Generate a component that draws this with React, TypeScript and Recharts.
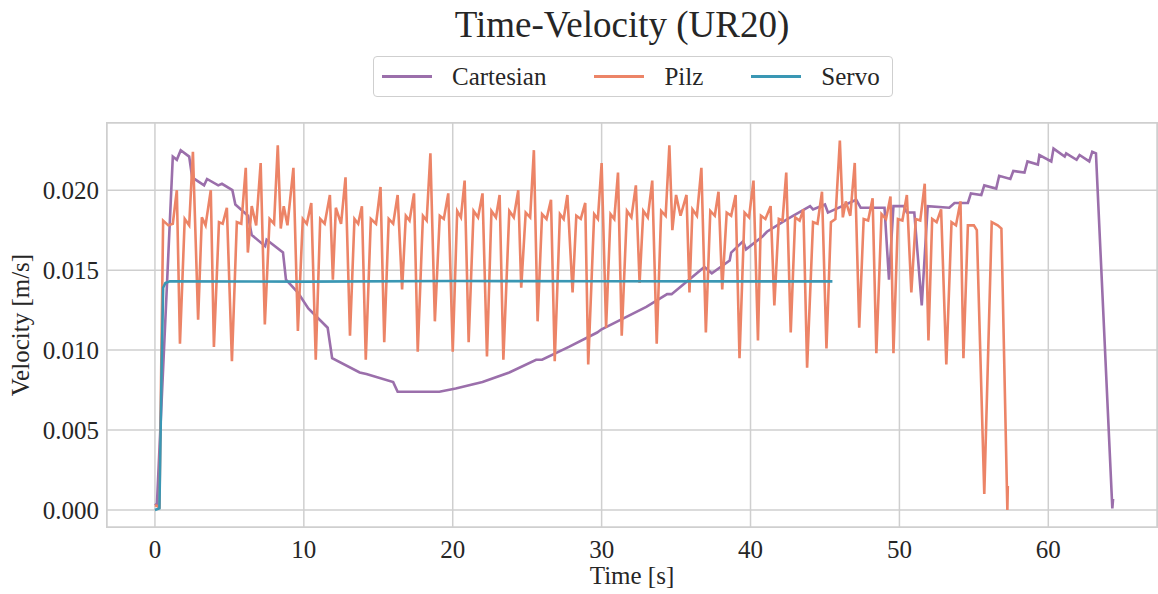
// Time-Velocity (UR20): velocity traces of three planners
import { LineChart, Line, XAxis, YAxis, CartesianGrid } from "recharts";

const FONT = "'Liberation Serif', 'DejaVu Serif', serif";
const TEXT = "#262626";
const GRID = "#cfcfcf";

const X_TICKS = [0, 10, 20, 30, 40, 50, 60];
const Y_TICKS = [0, 0.005, 0.01, 0.015, 0.02];

// [time s, velocity m/s]
const cartesian: [number, number][] = [
  [0, 0.0004], [0.13, 0.0003], [1.2, 0.0221], [1.47, 0.0219], [1.73, 0.0225], [2.3, 0.0221],
  [2.5, 0.0208], [3.3, 0.0203], [3.5, 0.0207], [4.25, 0.0203], [4.5, 0.0204], [5.2, 0.02],
  [5.4, 0.0191], [6.25, 0.0184], [6.5, 0.0172], [7.4, 0.0165], [7.5, 0.0169], [8.6, 0.0161],
  [8.8, 0.0144], [9.6, 0.0136], [10.3, 0.0126], [11.6, 0.0114], [11.9, 0.0095], [13.75, 0.0086],
  [14.2, 0.0085], [16.0, 0.008], [16.3, 0.0074], [19.1, 0.0074], [20.2, 0.0076], [21.1, 0.0078],
  [22.0, 0.008], [23.8, 0.0086], [25.6, 0.0094], [26.0, 0.0094], [27.8, 0.0102], [29.7, 0.0111],
  [30.0, 0.0113], [31.5, 0.012], [33.0, 0.0127], [34.4, 0.0135], [34.7, 0.0135], [36.9, 0.0152],
  [37.4, 0.0148], [38.6, 0.0156], [38.7, 0.0161], [39.5, 0.0168], [39.7, 0.0163], [40.8, 0.0171],
  [41.1, 0.0174], [42.5, 0.0182], [44.0, 0.019], [44.2, 0.0188], [45.0, 0.0191], [45.2, 0.0186],
  [47.1, 0.0194], [47.4, 0.0189], [49.0, 0.0189], [49.3, 0.0144], [49.6, 0.019], [50.3, 0.019],
  [50.5, 0.0186], [51.0, 0.0186], [51.5, 0.0128], [51.9, 0.019], [53.35, 0.0189], [53.7, 0.0192],
  [54.6, 0.0192], [54.8, 0.0198], [55.5, 0.0197], [55.7, 0.0203], [56.5, 0.0201], [56.7, 0.0209],
  [57.45, 0.0207], [57.65, 0.0212], [58.4, 0.0211], [58.6, 0.0218], [59.3, 0.0216], [59.4, 0.0222],
  [60.2, 0.0218], [60.35, 0.0226], [61.1, 0.0221], [61.2, 0.0223], [61.9, 0.0219], [62.1, 0.0222],
  [62.75, 0.0218], [62.95, 0.0224], [63.2, 0.0223], [64.3, 0.0001], [64.35, 0.0007],
];

const pilz: [number, number][] = [
  [0, 0.0003], [0.3, 0.0002], [0.55, 0.0181], [0.9, 0.0178], [1.2, 0.0179], [1.47, 0.02], [1.68, 0.0104],
  [2.0, 0.0182], [2.3, 0.0178], [2.55, 0.0224], [2.9, 0.0119], [3.15, 0.0183], [3.4, 0.0178], [3.75, 0.02],
  [3.96, 0.0102], [4.3, 0.018], [4.55, 0.0179], [4.83, 0.0189], [5.17, 0.0093], [5.5, 0.018], [5.8, 0.0179],
  [6.1, 0.0214], [6.24, 0.0161], [6.5, 0.019], [6.8, 0.0178], [7.1, 0.0217], [7.38, 0.0116], [7.7, 0.0182],
  [8.0, 0.0179], [8.25, 0.0228], [8.45, 0.0176], [8.65, 0.019], [8.9, 0.0178], [9.3, 0.0214], [9.6, 0.0112],
  [9.93, 0.0182], [10.2, 0.0179], [10.5, 0.0192], [10.8, 0.0094], [11.1, 0.0182], [11.4, 0.0179],
  [11.75, 0.0197], [11.95, 0.0144], [12.15, 0.0189], [12.5, 0.0179], [12.8, 0.0208], [13.1, 0.0109],
  [13.4, 0.0182], [13.65, 0.0179], [13.9, 0.019], [14.16, 0.0094], [14.5, 0.0182], [14.85, 0.0179],
  [15.15, 0.0202], [15.4, 0.0105], [15.7, 0.0182], [16.0, 0.0179], [16.3, 0.0197], [16.6, 0.0138],
  [16.85, 0.0184], [17.1, 0.0181], [17.4, 0.0198], [17.65, 0.0099], [18.0, 0.0184], [18.25, 0.0181],
  [18.5, 0.0223], [18.8, 0.0118], [19.13, 0.0184], [19.4, 0.0182], [19.7, 0.0198], [20.0, 0.0099],
  [20.3, 0.0187], [20.55, 0.0183], [20.8, 0.0206], [21.07, 0.0105], [21.4, 0.0187], [21.7, 0.0183],
  [22.0, 0.0198], [22.3, 0.0096], [22.6, 0.0187], [22.9, 0.0183], [23.15, 0.0197], [23.4, 0.0094],
  [23.8, 0.0187], [24.1, 0.0183], [24.4, 0.02], [24.6, 0.0139], [24.9, 0.0186], [25.2, 0.0183],
  [25.45, 0.0225], [25.7, 0.0118], [26.0, 0.0185], [26.3, 0.0182], [26.6, 0.0194], [26.85, 0.0093],
  [27.2, 0.0185], [27.45, 0.0182], [27.7, 0.0197], [28.05, 0.0136], [28.3, 0.0184], [28.6, 0.0182],
  [28.9, 0.0192], [29.1, 0.0091], [29.5, 0.0185], [29.75, 0.0182], [30.0, 0.0217], [30.3, 0.0114],
  [30.6, 0.0185], [30.85, 0.0182], [31.1, 0.0211], [31.35, 0.0109], [31.7, 0.0187], [32.0, 0.0183],
  [32.3, 0.0203], [32.55, 0.0142], [32.8, 0.0187], [33.1, 0.0183], [33.4, 0.0206], [33.7, 0.0104],
  [34.0, 0.0187], [34.3, 0.0184], [34.55, 0.0228], [34.75, 0.0175], [35.0, 0.0197], [35.3, 0.0184],
  [35.7, 0.0197], [35.9, 0.0136], [36.1, 0.0188], [36.4, 0.0184], [36.7, 0.0214], [37.0, 0.0111],
  [37.3, 0.0187], [37.6, 0.0184], [37.85, 0.0199], [38.1, 0.0138], [38.4, 0.0186], [38.7, 0.0184],
  [39.0, 0.0197], [39.26, 0.0095], [39.6, 0.0186], [39.9, 0.0183], [40.2, 0.0206], [40.5, 0.0106],
  [40.7, 0.0184], [41.0, 0.0182], [41.35, 0.019], [41.6, 0.0128], [41.9, 0.0182], [42.15, 0.0181],
  [42.4, 0.0211], [42.7, 0.0111], [43.0, 0.0183], [43.3, 0.0181], [43.55, 0.0188], [43.8, 0.0089],
  [44.2, 0.018], [44.5, 0.0179], [44.8, 0.0199], [45.1, 0.0101], [45.4, 0.018], [45.7, 0.0182],
  [46.0, 0.0231], [46.2, 0.0183], [46.4, 0.0193], [46.7, 0.0184], [47.0, 0.0217], [47.3, 0.0114],
  [47.6, 0.0182], [47.9, 0.0181], [48.2, 0.0195], [48.45, 0.0098], [48.8, 0.0185], [49.1, 0.0182],
  [49.4, 0.0196], [49.6, 0.0098], [49.9, 0.0182], [50.2, 0.0181], [50.5, 0.0197], [50.8, 0.0136],
  [51.1, 0.0182], [51.4, 0.0181], [51.7, 0.0204], [51.95, 0.0106], [52.2, 0.0182], [52.5, 0.018],
  [52.8, 0.0188], [53.15, 0.0091], [53.5, 0.018], [53.8, 0.0178], [54.1, 0.0193], [54.3, 0.0095],
  [54.6, 0.0178], [55.0, 0.0178], [55.2, 0.0175], [55.7, 0.001], [56.2, 0.018], [56.6, 0.0178],
  [56.85, 0.0176], [57.25, 0.0], [57.28, 0.0015],
];

const servo: [number, number][] = [
  [0, 0.0], [0.3, 0.0001], [0.45, 0.009], [0.55, 0.0139], [0.7, 0.0142], [1.0, 0.0143],
  [10, 0.01428], [20, 0.01432], [30, 0.01431], [40, 0.0143], [45.5, 0.0143],
];

const series = [
  { name: "Cartesian", color: "#9b6fab", points: cartesian },
  { name: "Pilz", color: "#ec8467", points: pilz },
  { name: "Servo", color: "#3a97b4", points: servo },
];

const tickStyle = { fontSize: 25, fill: TEXT, fontFamily: FONT };

export default function App() {
  return (
    <div
      style={{
        position: "absolute",
        left: 0,
        top: 0,
        width: 1158,
        height: 594,
        background: "#fff",
        fontFamily: FONT,
        color: TEXT,
      }}
    >
      <LineChart width={1158} height={594} margin={{ top: 123, right: 1, bottom: 0, left: 0 }}>
        <CartesianGrid stroke={GRID} strokeWidth={1.5} />
        <XAxis
          type="number"
          dataKey="t"
          domain={[-3.22, 67.3]}
          ticks={X_TICKS}
          allowDataOverflow
          height={67}
          axisLine={false}
          tickLine={false}
          tickMargin={7}
          tick={tickStyle}
          label={{
            value: "Time [s]",
            position: "insideBottom",
            offset: 10,
            style: { fontSize: 25, fill: TEXT, fontFamily: FONT },
          }}
        />
        <YAxis
          type="number"
          domain={[-0.00106, 0.0242]}
          ticks={Y_TICKS}
          allowDataOverflow
          width={107}
          axisLine={false}
          tickLine={false}
          tick={tickStyle}
          tickFormatter={(v: number) => v.toFixed(3)}
          label={{
            value: "Velocity [m/s]",
            angle: -90,
            position: "insideLeft",
            offset: 20,
            style: { fontSize: 25, fill: TEXT, fontFamily: FONT, textAnchor: "middle" },
          }}
        />
        {series.map((s) => (
          <Line
            key={s.name}
            name={s.name}
            data={s.points.map(([t, v]) => ({ t, v }))}
            dataKey="v"
            type="linear"
            stroke={s.color}
            strokeWidth={2.6}
            dot={false}
            activeDot={false}
            isAnimationActive={false}
          />
        ))}
      </LineChart>

      {/* frame around the plot area */}
      <div
        style={{
          position: "absolute",
          left: 106,
          top: 122,
          width: 1050,
          height: 404,
          border: `1.5px solid ${GRID}`,
          pointerEvents: "none",
        }}
      />

      <div
        style={{
          position: "absolute",
          left: 422,
          top: 6,
          width: 400,
          textAlign: "center",
          fontSize: 37,
          lineHeight: "37px",
        }}
      >
        Time-Velocity (UR20)
      </div>

      <div
        style={{
          position: "absolute",
          left: 373,
          top: 56,
          height: 39,
          paddingRight: 12,
          border: `1.5px solid ${GRID}`,
          borderRadius: 4,
          display: "flex",
          alignItems: "center",
          fontSize: 25,
          boxSizing: "content-box",
        }}
      >
        {series.map((s, i) => (
          <div
            key={s.name}
            style={{ display: "flex", alignItems: "center", marginLeft: i === 0 ? 8 : 48 }}
          >
            <div style={{ width: 50, height: 3, background: s.color, marginRight: 20 }} />
            <span>{s.name}</span>
          </div>
        ))}
      </div>
    </div>
  );
}
